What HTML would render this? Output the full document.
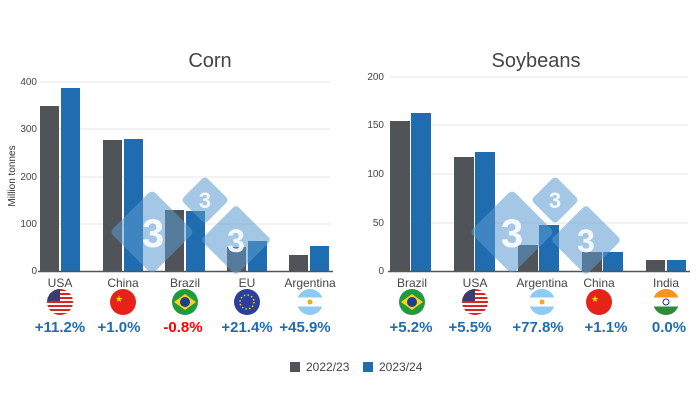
<!DOCTYPE html>
<html><head><meta charset="utf-8"><style>
body{margin:0;background:#fff;}
svg text{font-family:"Liberation Sans",Arial,sans-serif;}
</style></head><body>
<svg width="700" height="400" viewBox="0 0 700 400" xmlns="http://www.w3.org/2000/svg">
<defs>
<clipPath id="c"><circle cx="0" cy="0" r="13"/></clipPath>
</defs>
<rect width="700" height="400" fill="#fff"/>
<!-- LEFT CHART -->
<text x="210" y="67" font-size="20" fill="#444" text-anchor="middle">Corn</text>
<g stroke="#e6e6e6" stroke-width="1">
<line x1="40" y1="82" x2="330" y2="82"/><line x1="40" y1="129" x2="330" y2="129"/>
<line x1="40" y1="177" x2="330" y2="177"/><line x1="40" y1="224" x2="330" y2="224"/>
</g>
<g font-size="10" fill="#444" text-anchor="end">
<text x="37" y="85">400</text><text x="37" y="132">300</text><text x="37" y="180">200</text><text x="37" y="227">100</text><text x="37" y="274">0</text>
</g>
<text transform="translate(15,176) rotate(-90)" font-size="10" fill="#333" text-anchor="middle">Million tonnes</text>
<g fill="#505459">
<rect x="40" y="106" width="19" height="165"/><rect x="103" y="140" width="19" height="131"/>
<rect x="165" y="210" width="19" height="61"/><rect x="227" y="247" width="19" height="24"/>
<rect x="289" y="255" width="19" height="16"/>
</g>
<g fill="#1f6db0">
<rect x="61" y="88" width="19" height="183"/><rect x="124" y="139" width="19" height="132"/>
<rect x="186" y="211" width="19" height="60"/><rect x="248" y="241" width="19" height="30"/>
<rect x="310" y="246" width="19" height="25"/>
</g>
<line x1="38" y1="271.5" x2="333" y2="271.5" stroke="#555" stroke-width="1.5"/>
<g font-size="12" fill="#444" text-anchor="middle">
<text x="60" y="287">USA</text><text x="123" y="287">China</text><text x="185" y="287">Brazil</text><text x="247" y="287">EU</text><text x="310" y="287">Argentina</text>
</g>
<g font-size="15" font-weight="bold" text-anchor="middle" fill="#1f6db0">
<text x="60" y="332">+11.2%</text><text x="119" y="332">+1.0%</text><text x="183" y="332" fill="#f00">-0.8%</text><text x="247" y="332">+21.4%</text><text x="305" y="332">+45.9%</text>
</g>
<!-- RIGHT CHART -->
<text x="536" y="67" font-size="20" fill="#444" text-anchor="middle">Soybeans</text>
<g stroke="#e6e6e6" stroke-width="1">
<line x1="390" y1="77" x2="688" y2="77"/><line x1="390" y1="125" x2="688" y2="125"/>
<line x1="390" y1="174" x2="688" y2="174"/><line x1="390" y1="223" x2="688" y2="223"/>
</g>
<g font-size="10" fill="#444" text-anchor="end">
<text x="384" y="80">200</text><text x="384" y="128">150</text><text x="384" y="177">100</text><text x="384" y="226">50</text><text x="384" y="274">0</text>
</g>
<g fill="#505459">
<rect x="390" y="121" width="20" height="150"/><rect x="454" y="157" width="20" height="114"/>
<rect x="518" y="245" width="20" height="26"/><rect x="582" y="252" width="20" height="19"/>
<rect x="646" y="260" width="19" height="11"/>
</g>
<g fill="#1f6db0">
<rect x="411" y="113" width="20" height="158"/><rect x="475" y="152" width="20" height="119"/>
<rect x="539" y="225" width="20" height="46"/><rect x="603" y="252" width="20" height="19"/>
<rect x="667" y="260" width="19" height="11"/>
</g>
<line x1="388" y1="271.5" x2="690" y2="271.5" stroke="#555" stroke-width="1.5"/>
<g font-size="12" fill="#444" text-anchor="middle">
<text x="412" y="287">Brazil</text><text x="475" y="287">USA</text><text x="542" y="287">Argentina</text><text x="599" y="287">China</text><text x="666" y="287">India</text>
</g>
<g font-size="15" font-weight="bold" text-anchor="middle" fill="#1f6db0">
<text x="411" y="332">+5.2%</text><text x="470" y="332">+5.5%</text><text x="538" y="332">+77.8%</text><text x="606" y="332">+1.1%</text><text x="669" y="332">0.0%</text>
</g>
<!-- WATERMARKS -->
<g opacity="0.55" fill="#5a9ad0">
<g transform="translate(152,232) rotate(45)"><rect x="-30" y="-30" width="60" height="60" rx="5"/></g>
<g transform="translate(205,200) rotate(45)"><rect x="-17" y="-17" width="34" height="34" rx="4"/></g>
<g transform="translate(236,240) rotate(45)"><rect x="-25" y="-25" width="50" height="50" rx="4"/></g>
<g transform="translate(512,232) rotate(45)"><rect x="-30" y="-30" width="60" height="60" rx="5"/></g>
<g transform="translate(555,200) rotate(45)"><rect x="-17" y="-17" width="34" height="34" rx="4"/></g>
<g transform="translate(586,240) rotate(45)"><rect x="-25" y="-25" width="50" height="50" rx="4"/></g>
</g>
<g fill="#fff" font-weight="bold" text-anchor="middle" opacity="0.9">
<text x="153" y="247" font-size="40">3</text><text x="205" y="208" font-size="22">3</text><text x="236" y="252" font-size="32">3</text>
<text x="512" y="247" font-size="40">3</text><text x="555" y="208" font-size="22">3</text><text x="586" y="252" font-size="32">3</text>
</g>
<!-- FLAGS -->
<!-- USA -->
<g transform="translate(60,302)" clip-path="url(#c)"><rect x="-13" y="-13" width="26" height="26" fill="#fff"/>
<g fill="#d22"><rect x="-13" y="-13" width="26" height="2"/><rect x="-13" y="-9" width="26" height="2"/><rect x="-13" y="-5" width="26" height="2"/><rect x="-13" y="-1" width="26" height="2"/><rect x="-13" y="3" width="26" height="2"/><rect x="-13" y="7" width="26" height="2"/><rect x="-13" y="11" width="26" height="2"/></g>
<rect x="-13" y="-13" width="13" height="12" fill="#3c3b6e"/></g>
<g transform="translate(475,302)" clip-path="url(#c)"><rect x="-13" y="-13" width="26" height="26" fill="#fff"/>
<g fill="#d22"><rect x="-13" y="-13" width="26" height="2"/><rect x="-13" y="-9" width="26" height="2"/><rect x="-13" y="-5" width="26" height="2"/><rect x="-13" y="-1" width="26" height="2"/><rect x="-13" y="3" width="26" height="2"/><rect x="-13" y="7" width="26" height="2"/><rect x="-13" y="11" width="26" height="2"/></g>
<rect x="-13" y="-13" width="13" height="12" fill="#3c3b6e"/></g>
<!-- China -->
<g transform="translate(123,302)"><circle r="13" fill="#e8221a"/><text x="-4" y="0" font-size="9" fill="#ffde00" text-anchor="middle">★</text></g>
<g transform="translate(599,302)"><circle r="13" fill="#e8221a"/><text x="-4" y="0" font-size="9" fill="#ffde00" text-anchor="middle">★</text></g>
<!-- Brazil -->
<g transform="translate(185,302)"><circle r="13" fill="#1f9a3e"/><polygon points="-11,0 0,-8 11,0 0,8" fill="#f7d417"/><circle r="5" fill="#1e3f8f"/></g>
<g transform="translate(412,302)"><circle r="13" fill="#1f9a3e"/><polygon points="-11,0 0,-8 11,0 0,8" fill="#f7d417"/><circle r="5" fill="#1e3f8f"/></g>
<!-- EU -->
<g transform="translate(247,302)"><circle r="13" fill="#2a3f9e"/><circle r="7" fill="none" stroke="#ffd200" stroke-width="1.5" stroke-dasharray="1.5 2.2"/></g>
<!-- Argentina -->
<g transform="translate(310,302)" clip-path="url(#c)"><rect x="-13" y="-13" width="26" height="26" fill="#8ecbf2"/><rect x="-13" y="-4.5" width="26" height="9" fill="#fff"/><circle r="2.5" fill="#f0a81e"/></g>
<g transform="translate(542,302)" clip-path="url(#c)"><rect x="-13" y="-13" width="26" height="26" fill="#8ecbf2"/><rect x="-13" y="-4.5" width="26" height="9" fill="#fff"/><circle r="2.5" fill="#f0a81e"/></g>
<!-- India -->
<g transform="translate(666,302)" clip-path="url(#c)"><rect x="-13" y="-13" width="26" height="9" fill="#f7931e"/><rect x="-13" y="-4.5" width="26" height="9" fill="#fff"/><rect x="-13" y="4.5" width="26" height="9" fill="#2f8a3a"/><circle r="3" fill="none" stroke="#1e2d8f" stroke-width="1"/></g>
<!-- LEGEND -->
<rect x="290" y="362" width="10" height="10" fill="#505459"/>
<text x="306" y="371" font-size="12" fill="#444">2022/23</text>
<rect x="363" y="362" width="10" height="10" fill="#1f6db0"/>
<text x="379" y="371" font-size="12" fill="#444">2023/24</text>
</svg>
</body></html>
